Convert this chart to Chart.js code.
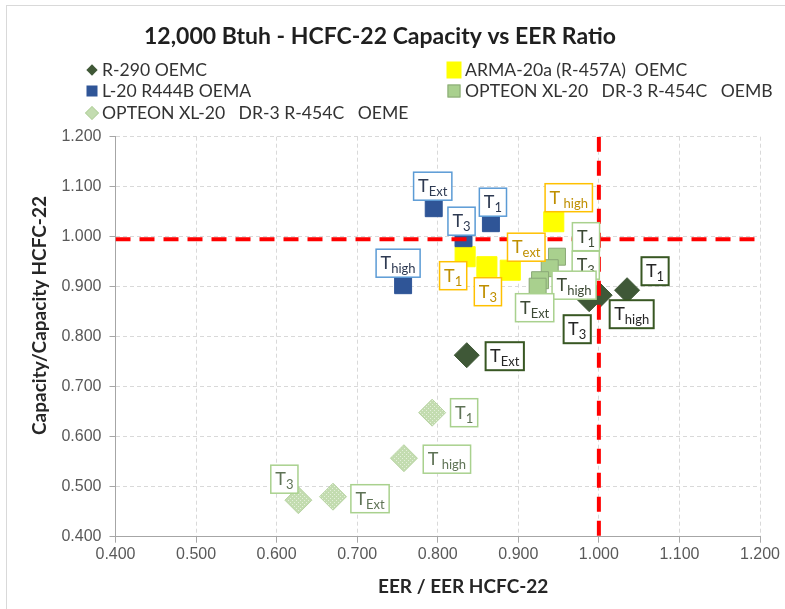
<!DOCTYPE html>
<html>
<head>
<meta charset="utf-8">
<script src="https://cdn.jsdelivr.net/npm/chart.js@4.4.1/dist/chart.umd.min.js"></script>
<style>
  body { margin: 0; background: #fff; }
  #wrap { position: relative; width: 785px; height: 609px; overflow: hidden; background: #fff; }
  #chart { position: absolute; left: 0; top: 0; }
  .frame { position: absolute; left: 6px; top: 5px; width: 900px; height: 700px; border: 1px solid #d9d9d9; pointer-events: none; }
  .leg { position: absolute; font: 17.6px Lato, sans-serif; color: #333; white-space: pre; line-height: 20px; }
  .mk { position: absolute; top: 50%; }
  .axt { position: absolute; font: bold 19px Lato, sans-serif; color: #262626; white-space: nowrap; }
</style>
</head>
<body>
<div id="wrap">
  <canvas id="chart" width="785" height="609"></canvas>
  <div class="frame"></div>
  <div id="legend"></div>
  <div class="axt" id="xTitle">EER / EER HCFC-22</div>
  <div class="axt" id="yTitle">Capacity/Capacity HCFC-22</div>
</div>
<script>
// series names (legend order, row by row)
const seriesNames = [
  'R-290 OEMC',
  'ARMA-20a (R-457A)  OEMC',
  'L-20 R444B OEMA',
  'OPTEON XL-20   DR-3 R-454C   OEMB',
  'OPTEON XL-20   DR-3 R-454C   OEME'
];

// EER ratio (x) and capacity ratio (y) per series
const r290X = [1.035, 1.001, 0.988, 0.836];
const r290Y = [0.893, 0.883, 0.875, 0.763];
const r290Tags = ['1', 'high', '3', 'Ext'];

const armaX = [0.834, 0.861, 0.890, 0.944];
const armaY = [0.960, 0.940, 0.933, 1.030];
const armaTags = ['1', '3', 'ext', ' high'];

const l20X = [0.795, 0.866, 0.832, 0.757];
const l20Y = [1.057, 1.027, 0.997, 0.903];
const l20Tags = ['Ext', '1', '3', 'high'];

const oembX = [0.948, 0.939, 0.927, 0.924];
const oembY = [0.960, 0.937, 0.913, 0.900];
const oembTags = ['1', '3', 'high', 'Ext'];

const oemeX = [0.793, 0.758, 0.627, 0.670];
const oemeY = [0.648, 0.557, 0.473, 0.480];
const oemeTags = ['1', ' high', '3', 'Ext'];

// reference lines (HCFC-22 = 1)
const refX = 1.0;
const refY = 0.995;

const xTicks = [0.4, 0.5, 0.6, 0.7, 0.8, 0.9, 1.0, 1.1, 1.2];
const yTicks = [0.4, 0.5, 0.6, 0.7, 0.8, 0.9, 1.0, 1.1, 1.2];

// label box offsets from each point, px
const r290Offsets = [[28, -19], [32, 19], [-12, 30], [38, 1]];
const armaOffsets = [[-12, 19], [1, 25], [16, -23], [15, -24]];
const l20Offsets = [[-1, -22], [2, -21], [-2, -17], [-5, -22]];
const oembOffsets = [[29, -20], [36, -3], [34, 5], [-3, 21]];
const oemeOffsets = [[32, 0], [43, 1], [-14, -21], [37, 2]];

const pts = (xs, ys) => xs.map((x, i) => ({ x: x, y: ys[i] }));

// dotted fill for the OEME diamonds
const pc = document.createElement('canvas');
pc.width = 4; pc.height = 4;
const pctx = pc.getContext('2d');
pctx.fillStyle = '#c3dcb0';
pctx.fillRect(0, 0, 4, 4);
pctx.fillStyle = '#e4f0da';
pctx.fillRect(0, 0, 1, 1);
pctx.fillRect(2, 2, 1, 1);
const oemePattern = document.getElementById('chart').getContext('2d').createPattern(pc, 'repeat');

const datasets = [
  {
    label: seriesNames[0], data: pts(r290X, r290Y), order: 5,
    pointStyle: 'rectRot', pointRadius: 12.5, backgroundColor: '#3f5837', borderColor: '#3f5837', borderWidth: 1,
    tags: r290Tags, offsets: r290Offsets, tagBorder: '#385723', tagColor: '#262626', tagWidth: 2
  },
  {
    label: seriesNames[1], data: pts(armaX, armaY), order: 4,
    pointStyle: 'rect', pointRadius: 14.2, backgroundColor: '#ffff00', borderColor: '#ffff00', borderWidth: 1,
    tags: armaTags, offsets: armaOffsets, tagBorder: '#ffc000', tagColor: '#bf8f00', tagWidth: 1.5
  },
  {
    label: seriesNames[2], data: pts(l20X, l20Y), order: 3,
    pointStyle: 'rect', pointRadius: 12, backgroundColor: '#2f5597', borderColor: '#2f5597', borderWidth: 1,
    tags: l20Tags, offsets: l20Offsets, tagBorder: '#5b9bd5', tagColor: '#2e3a52', tagWidth: 1.5
  },
  {
    label: seriesNames[3], data: pts(oembX, oembY), order: 2,
    pointStyle: 'rect', pointRadius: 12, backgroundColor: '#a9d08e', borderColor: '#8aa876', borderWidth: 1,
    tags: oembTags, offsets: oembOffsets, tagBorder: '#a9d18e', tagColor: '#3d4a35', tagWidth: 1.5
  },
  {
    label: seriesNames[4], data: pts(oemeX, oemeY), order: 1,
    pointStyle: 'rectRot', pointRadius: 13.5, backgroundColor: oemePattern, borderColor: '#b7d3a2', borderWidth: 1,
    tags: oemeTags, offsets: oemeOffsets, tagBorder: '#a9d18e', tagColor: '#5f7356', tagWidth: 1.5
  },
  {
    label: 'ref x', type: 'line', data: [{ x: refX, y: 1.2 }, { x: refX, y: 0.4 }], order: 0,
    borderColor: '#ff0000', borderWidth: 4, borderDash: [15, 9], pointRadius: 0, fill: false
  },
  {
    label: 'ref y', type: 'line', data: [{ x: 0.4, y: refY }, { x: 1.2, y: refY }], order: 0,
    borderColor: '#ff0000', borderWidth: 4, borderDash: [15, 9], pointRadius: 0, fill: false
  }
];

// boxed T-labels next to each point
const tagPlugin = {
  id: 'tags',
  afterDatasetsDraw(chart) {
    const ctx = chart.ctx;
    chart.data.datasets.forEach((ds, di) => {
      if (!ds.tags) return;
      const meta = chart.getDatasetMeta(di);
      meta.data.forEach((p, i) => {
        const cx = p.x + ds.offsets[i][0];
        const cy = p.y + ds.offsets[i][1];
        ctx.save();
        ctx.font = '18px Lato, sans-serif';
        const w1 = ctx.measureText('T').width;
        ctx.font = '13px Lato, sans-serif';
        const w2 = ctx.measureText(ds.tags[i]).width;
        const w = w1 + w2 + 9;
        const h = 28;
        ctx.fillStyle = '#fff';
        ctx.fillRect(cx - w / 2, cy - h / 2, w, h);
        ctx.strokeStyle = ds.tagBorder;
        ctx.lineWidth = ds.tagWidth;
        ctx.strokeRect(cx - w / 2, cy - h / 2, w, h);
        ctx.fillStyle = ds.tagColor;
        ctx.textBaseline = 'alphabetic';
        ctx.textAlign = 'left';
        const x0 = cx - (w1 + w2) / 2;
        ctx.font = '18px Lato, sans-serif';
        ctx.fillText('T', x0, cy + 6);
        ctx.font = '13px Lato, sans-serif';
        ctx.fillText(ds.tags[i], x0 + w1, cy + 10);
        ctx.restore();
      });
    });
  }
};

const gridOpts = { color: '#d9d9d9', tickColor: '#a6a6a6', tickLength: 6, tickBorderDash: [] };
const borderOpts = { color: '#a6a6a6', width: 1, dash: [4, 3] };
const tickFont = { family: '"Liberation Sans", Arial, sans-serif', size: 16 };

new Chart(document.getElementById('chart'), {
  type: 'scatter',
  data: { datasets: datasets },
  options: {
    responsive: false,
    animation: false,
    layout: { padding: { left: 0, right: 25, top: 0, bottom: 0 } },
    plugins: {
      legend: { display: false },
      tooltip: { enabled: false },
      title: {
        display: true,
        text: '12,000 Btuh - HCFC-22 Capacity vs EER Ratio',
        color: '#1f1f1f',
        font: { family: 'Lato, sans-serif', size: 23, weight: 'bold' },
        padding: { top: 23.2, bottom: 85.9 }
      }
    },
    scales: {
      x: {
        type: 'linear', min: 0.4, max: 1.2,
        afterBuildTicks: s => { s.ticks = xTicks.map(v => ({ value: v })); },
        afterFit: s => { s.height = 72.3; },
        ticks: { color: '#595959', font: tickFont, padding: 2, maxRotation: 0, callback: v => v.toFixed(3) },
        grid: gridOpts,
        border: borderOpts
      },
      y: {
        type: 'linear', min: 0.4, max: 1.2,
        afterBuildTicks: s => { s.ticks = yTicks.map(v => ({ value: v })); },
        afterFit: s => { s.width = 115.5; },
        ticks: { color: '#595959', font: tickFont, padding: 8, callback: v => v.toFixed(3) },
        grid: gridOpts,
        border: borderOpts
      }
    }
  },
  plugins: [tagPlugin]
});

// legend: two columns, filled row by row
const legend = document.getElementById('legend');
const markers = [
  'width:8px;height:8px;background:#3f5837;transform:translate(-50%,-50%) rotate(45deg);',
  'width:15px;height:17px;background:#ffff00;transform:translate(-50%,-50%);',
  'width:11px;height:11px;background:#2f5597;transform:translate(-50%,-50%);',
  'width:11px;height:11px;background:#a9d08e;border:1px solid #8aa876;transform:translate(-50%,-50%);',
  'width:8px;height:8px;background:#c3dcb0;border:1px solid #b7d3a2;transform:translate(-50%,-50%) rotate(45deg);'
];
seriesNames.forEach((name, i) => {
  const col = i % 2, row = Math.floor(i / 2);
  const item = document.createElement('div');
  item.className = 'leg';
  item.style.left = (col ? 465 : 102) + 'px';
  item.style.top = (59.7 + row * 21.7) + 'px';
  item.textContent = name;
  const mk = document.createElement('span');
  mk.className = 'mk';
  mk.style.cssText += markers[i] + 'left:' + (col ? -11 : -10) + 'px;';
  item.appendChild(mk);
  legend.appendChild(item);
});

const xt = document.getElementById('xTitle');
xt.style.left = (463 - xt.offsetWidth / 2) + 'px';
xt.style.top = (585 - xt.offsetHeight / 2) + 'px';
const yt = document.getElementById('yTitle');
yt.style.left = (38 - yt.offsetWidth / 2) + 'px';
yt.style.top = (315 - yt.offsetHeight / 2) + 'px';
yt.style.transform = 'rotate(-90deg)';
</script>
</body>
</html>
